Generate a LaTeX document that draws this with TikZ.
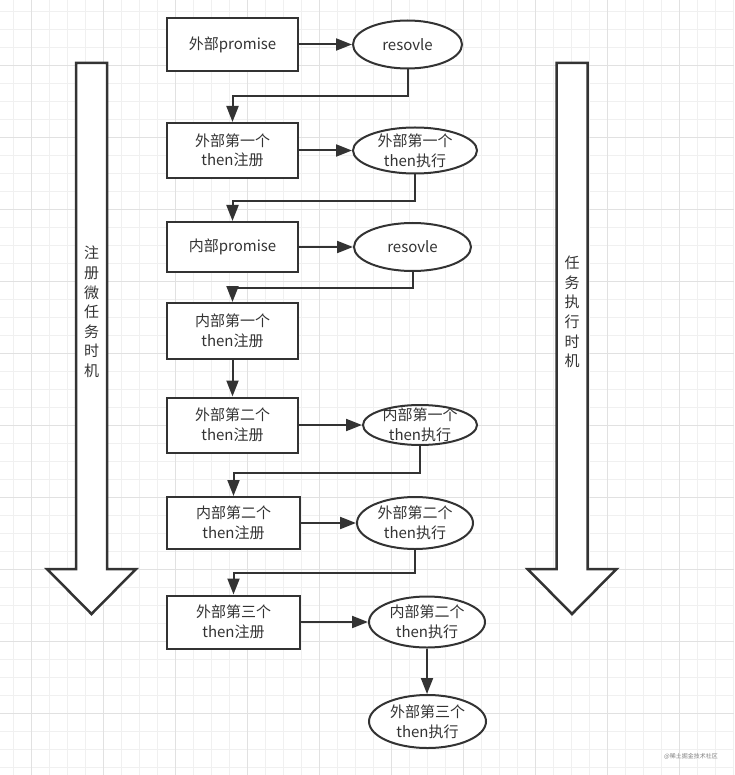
\documentclass[tikz,border=0pt]{standalone}
\usepackage{fontspec}
\setmainfont{Noto Sans CJK SC}
\usetikzlibrary{arrows.meta,shapes.geometric}
\definecolor{inkgray}{HTML}{333333}
\definecolor{gridminor}{HTML}{F0F0F0}
\definecolor{gridmajor}{HTML}{E1E1E1}
\tikzset{
    box/.style={draw=inkgray, line width=2pt, fill=white, minimum width=131pt, minimum height=53pt, inner sep=0pt, align=center},
    oval/.style={ellipse, draw=inkgray, line width=2pt, fill=white, inner sep=-20pt, align=center},
    flow/.style={draw=inkgray, line width=2pt, -{Triangle[length=16pt,width=12pt]}},
    bigarrow/.style={draw=inkgray, line width=2.5pt, fill=white, line join=miter}
}
\begin{document}
\begin{tikzpicture}[x=1pt, y=-1pt, font=\fontsize{15}{19.6}\selectfont, text=inkgray]
    \useasboundingbox[fill=white] (0,0) rectangle (734,775);
    % grid
    \foreach \i in {0,...,40} \draw[gridminor, line width=0.8pt] (13.5+18*\i,0) -- (13.5+18*\i,775);
    \foreach \j in {0,...,42} \draw[gridminor, line width=0.8pt] (0,11.5+18*\j) -- (734,11.5+18*\j);
    \foreach \i in {0,...,9} \draw[gridmajor, line width=0.8pt] (31.5+72*\i,0) -- (31.5+72*\i,775);
    \foreach \j in {0,...,9} \draw[gridmajor, line width=0.8pt] (0,65.5+72*\j) -- (734,65.5+72*\j);

    % big arrows
    \draw[bigarrow] (76,63) -- (107,63) -- (107,569) -- (136,569) -- (91.5,614) -- (47,569) -- (76,569) -- cycle;
    \node[align=center] (regTime) at (91.5,312) {注\\册\\微\\任\\务\\时\\机};
    \draw[bigarrow] (556.5,63) -- (587.5,63) -- (587.5,569) -- (616.5,569) -- (572,614) -- (527.5,569) -- (556.5,569) -- cycle;
    \node[align=center] (runTime) at (572,312) {任\\务\\执\\行\\时\\机};

    % nodes
    \node[box] (outerP) at (232.5,44.5) {外部promise};
    \node[oval, minimum width=109pt, minimum height=48pt] (outerRes) at (407.5,44.5) {resovle};
    \node[box, minimum height=55pt] (outerThen1) at (232.5,150.5) {外部第一个\\then注册};
    \node[oval, minimum width=124pt, minimum height=46pt] (outerRun1) at (415,150.5) {外部第一个\\then执行};
    \node[box, minimum height=50pt] (innerP) at (232.5,247) {内部promise};
    \node[oval, minimum width=117pt, minimum height=48pt] (innerRes) at (412.5,247) {resovle};
    \node[box, minimum height=56pt] (innerThen1) at (232.5,331) {内部第一个\\then注册};
    \node[box, minimum height=55pt] (outerThen2) at (232.5,425) {外部第二个\\then注册};
    \node[oval, minimum width=114pt, minimum height=40pt] (innerRun1) at (420,425) {内部第一个\\then执行};
    \node[box, minimum width=133pt, minimum height=52pt] (innerThen2) at (233.5,523) {内部第二个\\then注册};
    \node[oval, minimum width=116pt, minimum height=52pt] (outerRun2) at (415,523) {外部第二个\\then执行};
    \node[box, minimum width=133pt] (outerThen3) at (233.5,622) {外部第三个\\then注册};
    \node[oval, minimum width=116pt, minimum height=51pt] (innerRun2) at (427,622) {内部第二个\\then执行};
    \node[oval, minimum width=117pt, minimum height=53pt] (outerRun3) at (427.5,721.5) {外部第三个\\then执行};

    % connectors
    \draw[flow] (outerP) -- (outerRes);
    \draw[flow] (outerRes.south) -- ++(0,27) -| (outerThen1.north);
    \draw[flow] (outerThen1) -- (outerRun1);
    \draw[flow] (outerRun1.south) -- ++(0,27) -| (innerP.north);
    \draw[flow] (innerP) -- (innerRes);
    \draw[flow] (innerRes.south) -- ++(0,16) -| (innerThen1.north);
    \draw[flow] (innerThen1) -- (outerThen2);
    \draw[flow] (outerThen2) -- (innerRun1);
    \draw[flow] (innerRun1.south) -- ++(0,27) -| (innerThen2.north);
    \draw[flow] (innerThen2) -- (outerRun2);
    \draw[flow] (outerRun2.south) -- ++(0,23) -| (outerThen3.north);
    \draw[flow] (outerThen3) -- (innerRun2);
    \draw[flow] (innerRun2.south) -- (innerRun2.south |- outerRun3.north);

    \node[text=gray, font=\fontsize{6}{7}\selectfont] (mark) at (691,756) {@稀土掘金技术社区};
\end{tikzpicture}
\end{document}
